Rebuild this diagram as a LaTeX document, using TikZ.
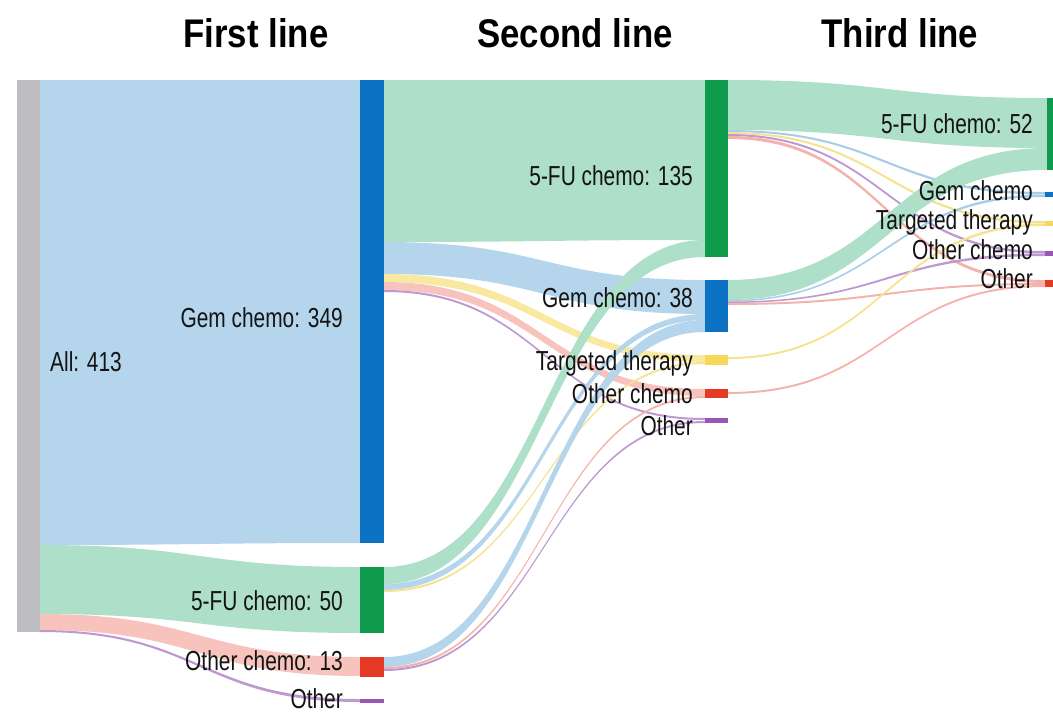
\documentclass[tikz,border=0pt]{standalone}
\usepackage{fontspec}
\setmainfont{Liberation Sans}
\usepackage{graphicx}
\definecolor{cgray}{HTML}{BDBDC2}
\definecolor{cblue}{HTML}{0B72C4}
\definecolor{cgreen}{HTML}{0E9A4A}
\definecolor{cred}{HTML}{E53A26}
\definecolor{cyellow}{HTML}{F7D65A}
\definecolor{cpurple}{HTML}{9A55B5}
\definecolor{fblue}{HTML}{B4D5EB}
\definecolor{fgreen}{HTML}{AEDFC8}
\definecolor{fpink}{HTML}{F7C3BC}
\definecolor{fyellow}{HTML}{F9E9A0}
\definecolor{fpurple}{HTML}{C9A6DA}
\definecolor{tblue}{HTML}{A8CDE9}
\definecolor{tpink}{HTML}{F4B3AA}
\definecolor{tyellow}{HTML}{F6E28E}
\definecolor{tpurple}{HTML}{BD98D2}
\definecolor{ctext}{HTML}{141414}
\newcommand{\band}[7]{\fill[#1] (#2,-#3) .. controls ({(#2+#5)/2},-#3) and ({(#2+#5)/2},-#6) .. (#5,-#6) -- (#5,-#7) .. controls ({(#2+#5)/2},-#7) and ({(#2+#5)/2},-#4) .. (#2,-#4) -- cycle;}
\newcommand{\sx}[1]{\scalebox{0.76}[1]{#1}}
\newcommand{\tx}[1]{\scalebox{0.87}[1]{#1}}
\tikzset{
  barbox/.style={inner sep=0pt, outer sep=0pt, anchor=north west, draw=none},
  lbl/.style={inner sep=0pt, text=ctext, font=\fontsize{27.5}{31}\selectfont},
  ttl/.style={inner sep=0pt, text=black, font=\bfseries\fontsize{40}{44}\selectfont, anchor=base}
}
\begin{document}
\begin{tikzpicture}[x=1pt,y=1pt]
\path[use as bounding box] (0,0) rectangle (1053,-713);
% ---------- flows: column 0 -> column 1
\band{fblue}{40}{80}{545}{360}{80}{543}
\band{fgreen}{40}{545}{614}{360}{567}{633}
\band{fpink}{40}{614}{630}{360}{657}{676}
\band{tpurple}{40}{630}{632}{360}{699}{702}
% ---------- flows: column 1 -> column 2
\band{fgreen}{384}{80}{242}{705}{80}{240}
\band{fblue}{384}{242}{274}{705}{280}{314}
\band{fyellow}{384}{274}{282}{705}{355}{362}
\band{fpink}{384}{282}{290}{705}{389}{396}
\band{tpurple}{384}{290}{292}{705}{418}{420}
\band{fgreen}{384}{567}{584}{705}{240}{257}
\band{fblue}{384}{584}{590}{705}{314}{320}
\band{tyellow}{384}{590}{592}{705}{362}{364}
\band{fblue}{384}{657}{667}{705}{320}{332}
\band{tpink}{384}{667}{669}{705}{396}{398}
\band{tpurple}{384}{669}{671}{705}{421}{423}
% ---------- flows: column 2 -> column 3
\band{fgreen}{728}{80}{130}{1047}{98}{148}
\band{tblue}{728}{130}{132}{1045}{192}{194.5}
\band{tyellow}{728}{132}{134}{1045}{221}{223.5}
\band{tpurple}{728}{134}{136}{1045}{251}{253.5}
\band{tpink}{728}{136}{139}{1045}{280}{283}
\band{fgreen}{728}{280}{300}{1047}{148}{170}
\band{tblue}{728}{300}{301.5}{1045}{194.5}{197}
\band{tpurple}{728}{301.5}{303}{1045}{253.5}{256}
\band{tpink}{728}{303}{305}{1045}{283}{285}
\band{tyellow}{728}{357}{359}{1045}{223.5}{226}
\band{tpink}{728}{392}{394}{1045}{285}{287}
% ---------- bars
\node[barbox, fill=cgray, minimum width=23, minimum height=552] (all) at (17,-80) {};
\node[barbox, fill=cblue, minimum width=24, minimum height=463] (gem1) at (360,-80) {};
\node[barbox, fill=cgreen, minimum width=24, minimum height=66] (fu1) at (360,-567) {};
\node[barbox, fill=cred, minimum width=24, minimum height=20] (oc1) at (360,-657) {};
\node[barbox, fill=cpurple, minimum width=24, minimum height=4] (ot1) at (360,-699) {};
\node[barbox, fill=cgreen, minimum width=23, minimum height=177] (fu2) at (705,-80) {};
\node[barbox, fill=cblue, minimum width=23, minimum height=52] (gem2) at (705,-280) {};
\node[barbox, fill=cyellow, minimum width=23, minimum height=10] (tt2) at (705,-355) {};
\node[barbox, fill=cred, minimum width=23, minimum height=9] (oc2) at (705,-389) {};
\node[barbox, fill=cpurple, minimum width=23, minimum height=5] (ot2) at (705,-418) {};
\node[barbox, fill=cgreen, minimum width=8, minimum height=72] (fu3) at (1047,-98) {};
\node[barbox, fill=cblue, minimum width=8, minimum height=5] (gem3) at (1045,-192) {};
\node[barbox, fill=cyellow, minimum width=8, minimum height=5] (tt3) at (1045,-221) {};
\node[barbox, fill=cpurple, minimum width=8, minimum height=5] (oc3) at (1045,-251) {};
\node[barbox, fill=cred, minimum width=8, minimum height=7] (ot3) at (1045,-280) {};
% ---------- titles
\node[ttl] (t1) at (256,-47) {\tx{First line}};
\node[ttl] (t2) at (575,-47) {\tx{Second line}};
\node[ttl] (t3) at (900,-47) {\tx{Third line}};
% ---------- labels
\node[lbl, anchor=base west] (lall) at (50,-371) {\sx{All: 413}};
\node[lbl, anchor=base east] (lgem1) at (343,-327) {\sx{Gem chemo: 349}};
\node[lbl, anchor=base east] (lfu1) at (343,-610) {\sx{5-FU chemo: 50}};
\node[lbl, anchor=base east] (loc1) at (343,-670) {\sx{Other chemo: 13}};
\node[lbl, anchor=base east] (lot1) at (343,-708) {\sx{Other}};
\node[lbl, anchor=base east] (lfu2) at (693,-185) {\sx{5-FU chemo: 135}};
\node[lbl, anchor=base east] (lgem2) at (693,-307) {\sx{Gem chemo: 38}};
\node[lbl, anchor=base east] (ltt2) at (693,-370) {\sx{Targeted therapy}};
\node[lbl, anchor=base east] (loc2) at (693,-403) {\sx{Other chemo}};
\node[lbl, anchor=base east] (lot2) at (693,-435) {\sx{Other}};
\node[lbl, anchor=base east] (lfu3) at (1033,-133) {\sx{5-FU chemo: 52}};
\node[lbl, anchor=base east] (lgem3) at (1033,-200) {\sx{Gem chemo}};
\node[lbl, anchor=base east] (ltt3) at (1033,-229) {\sx{Targeted therapy}};
\node[lbl, anchor=base east] (loc3) at (1033,-259) {\sx{Other chemo}};
\node[lbl, anchor=base east] (lot3) at (1033,-288) {\sx{Other}};
\end{tikzpicture}
\end{document}
